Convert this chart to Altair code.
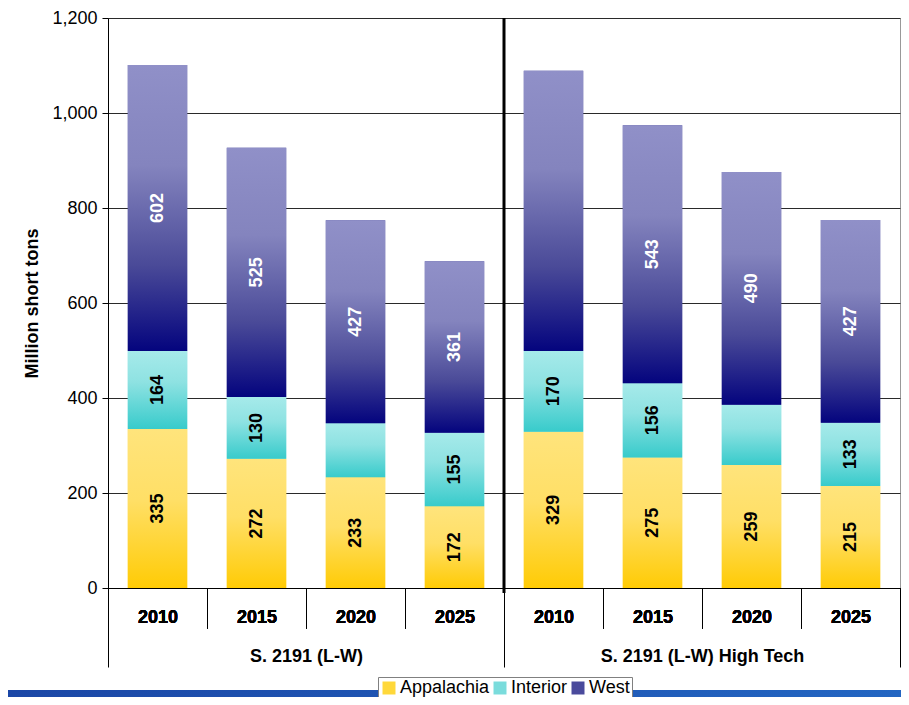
import altair as alt
import pandas as pd

group_names = ["S. 2191 (L-W)", "S. 2191 (L-W) High Tech"]
years = ["2010", "2015", "2020", "2025"]
series_names = ["Appalachia", "Interior", "West"]
appalachia = [335, 272, 233, 172, 329, 275, 259, 215]
interior = [164, 130, 114, 155, 170, 156, 127, 133]
west = [602, 525, 427, 361, 590, 543, 490, 427]
shown_app = [1, 1, 1, 1, 1, 1, 1, 1]
shown_int = [1, 1, 0, 1, 1, 1, 0, 1]
shown_west = [1, 1, 1, 1, 0, 1, 1, 1]
y_ticks = [0, 200, 400, 600, 800, 1000, 1200]

FONT = "Liberation Sans"

keys = [f"{g}|{y}" for g in group_names for y in years]
rows = []
for i, k in enumerate(keys):
    g, yr = k.split("|")
    for order, (s, vals, shown) in enumerate(
        [("Appalachia", appalachia, shown_app),
         ("Interior", interior, shown_int),
         ("West", west, shown_west)]):
        rows.append(dict(key=k, group=g, year=yr, series=s, order=order,
                         value=vals[i], label=str(vals[i]) if shown[i] else ""))
df = pd.DataFrame(rows)


def vgrad(stops):
    return {"gradient": "linear", "x1": 0, "y1": 0, "x2": 0, "y2": 1,
            "stops": [{"offset": o, "color": c} for o, c in stops]}


grads = {
    "Appalachia": vgrad([(0, "#FFE47C"), (0.45, "#FFDF66"), (1, "#FFCB05")]),
    "Interior": vgrad([(0, "#A6EAEA"), (0.4, "#8EE2E2"), (1, "#38CBCB")]),
    "West": vgrad([(0, "#9090C8"), (0.35, "#8484BE"), (0.7, "#4A4A98"), (1, "#04047E")]),
}
solid = ["#FFD83A", "#7ADCDC", "#4A4A9C"]
BAR_W = alt.RelativeBandSize(0.6)

x_enc = alt.X(
    "key:N",
    scale=alt.Scale(domain=keys, paddingInner=0, paddingOuter=0),
    axis=alt.Axis(title=None, orient="bottom", labelExpr="split(datum.label, '|')[1]",
                  tickBand="extent", tickSize=40, tickColor="black", domainColor="black",
                  labelAngle=0, labelFont=FONT, labelFontSize=18, labelFontWeight="bold",
                  labelColor="black", labelPadding=-20, labelBaseline="top", grid=False),
)


def y_enc(field):
    return alt.Y(
        field,
        scale=alt.Scale(domain=[0, 1200], nice=False),
        axis=alt.Axis(values=y_ticks, format=",.0f", title="Million short tons",
                      titleFont=FONT, titleFontSize=18, titleFontWeight="bold",
                      titleColor="black", titlePadding=10,
                      labelFont=FONT, labelFontSize=18, labelColor="black",
                      labelPadding=5, tickSize=6, tickColor="black",
                      domainColor="black", grid=True, gridColor="#2a2a2a"),
    )


base = alt.Chart(df).transform_stack(
    stack="value", groupby=["key"], sort=[alt.SortField("order")], as_=["y0", "y1"]
)

legend_layer = base.mark_bar(width=BAR_W).encode(
    x=x_enc,
    y=y_enc("y1:Q"),
    y2="y0:Q",
    color=alt.Color(
        "series:N",
        scale=alt.Scale(domain=series_names, range=solid),
        legend=alt.Legend(orient="none", legendX=270, legendY=659, direction="horizontal",
                          title=None, symbolType="square", symbolSize=169,
                          symbolStrokeWidth=0, labelFont=FONT, labelFontSize=18,
                          labelColor="black", fillColor="white", strokeColor="#808080",
                          padding=2, columnPadding=1, labelOffset=2),
    ),
)

grad_layers = [
    base.transform_filter(alt.datum.series == s).mark_bar(color=grads[s], width=BAR_W).encode(
        x=x_enc, y=y_enc("y1:Q"), y2="y0:Q"
    )
    for s in series_names
]

text_layer = base.transform_calculate(mid="(datum.y0 + datum.y1) / 2").mark_text(
    angle=270, font=FONT, fontSize=18, fontWeight="bold", baseline="middle", align="center"
).encode(
    x=x_enc,
    y=y_enc("mid:Q"),
    text="label:N",
    color=alt.condition(alt.datum.series == "West", alt.value("white"), alt.value("black")),
)

group_layer = alt.Chart(pd.DataFrame({"group": [group_names[1]]})).mark_rule(
    color="black", strokeWidth=3
).encode(
    x=alt.X("group:N", bandPosition=0,
            scale=alt.Scale(domain=group_names, paddingInner=0, paddingOuter=0),
            axis=alt.Axis(title=None, orient="bottom", tickBand="extent", tickSize=79,
                          tickColor="black", domain=False, labelAngle=0, labelFont=FONT,
                          labelFontSize=18, labelFontWeight="bold", labelColor="black",
                          labelPadding=-20, labelBaseline="top", labelLimit=500, grid=False)),
    y=alt.value(0),
    y2=alt.value(575),
)

band = alt.Chart(pd.DataFrame({"d": [0]})).mark_rect(
    color={"gradient": "linear", "x1": 0, "y1": 0, "x2": 1, "y2": 0,
           "stops": [{"offset": 0, "color": "#1B47A6"}, {"offset": 1, "color": "#2366C2"}]}
).encode(x=alt.value(-100), x2=alt.value(801), y=alt.value(672), y2=alt.value(690))

chart = alt.layer(
    band, legend_layer, *grad_layers, text_layer, group_layer
).resolve_scale(x="independent").properties(
    width=792, height=570,
    autosize=alt.AutoSizeParams(type="none"),
    padding={"left": 100, "top": 10, "right": 1, "bottom": 109},
).configure_view(stroke="#999999")

chart.save("out.html", embed_options={"renderer": "svg", "actions": False})
